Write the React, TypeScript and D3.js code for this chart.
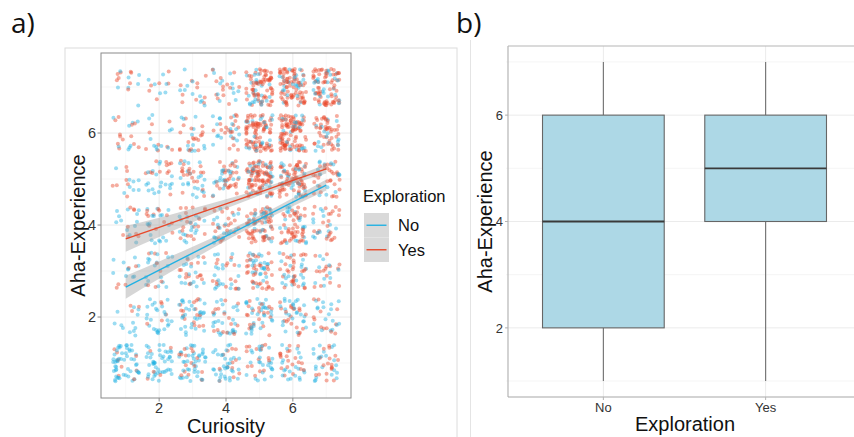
import React from "react";
import * as d3 from "d3";

// ---- data ----
const LEVELS = [1, 2, 3, 4, 5, 6, 7];
const GROUPS = ["No", "Yes"];

// participants per cell: rows = Aha-Experience 1..7, columns = Curiosity 1..7
const countsNo = [
  [52, 45, 40, 33, 25, 20, 22],
  [12, 25, 30, 25, 30, 25, 18],
  [10, 17, 15, 20, 25, 20, 10],
  [12, 18, 17, 18, 25, 20, 13],
  [8, 18, 20, 20, 25, 25, 15],
  [8, 10, 12, 17, 20, 20, 15],
  [7, 6, 10, 12, 25, 25, 25],
];
const countsYes = [
  [8, 5, 15, 12, 15, 20, 18],
  [3, 5, 15, 15, 20, 20, 12],
  [5, 8, 15, 15, 35, 30, 15],
  [8, 12, 18, 22, 55, 45, 22],
  [7, 12, 20, 30, 85, 65, 30],
  [12, 8, 18, 18, 80, 90, 45],
  [8, 6, 10, 13, 65, 75, 65],
];

// fitted lines (lm) with confidence half-widths at Curiosity 1..7
const fitNo = [2.65, 3.02, 3.39, 3.76, 4.13, 4.5, 4.87];
const fitYes = [3.7, 3.95, 4.21, 4.46, 4.71, 4.97, 5.22];
const seNo = [0.25, 0.19, 0.14, 0.1, 0.08, 0.09, 0.12];
const seYes = [0.28, 0.21, 0.15, 0.1, 0.07, 0.07, 0.1];

// box plot summaries per Exploration group
const boxCats = ["No", "Yes"];
const boxMin = [1, 1];
const boxQ1 = [2, 4];
const boxMed = [4, 5];
const boxQ3 = [6, 6];
const boxMax = [7, 7];

const yTicks = [2, 4, 6];
const xTicks = [2, 4, 6];
const minorTicks = [1, 3, 5, 7];

const COLORS: Record<string, string> = { No: "#22b1e3", Yes: "#e8482a" };
const FONT = "'Liberation Sans', Arial, sans-serif";

type Pt = { x: number; y: number; g: string; key: string };

// seeded generator so the jitter is identical on every render
function mulberry32(seed: number) {
  let a = seed >>> 0;
  return () => {
    a = (a + 0x6d2b79f5) >>> 0;
    let t = a;
    t = Math.imul(t ^ (t >>> 15), t | 1);
    t ^= t + Math.imul(t ^ (t >>> 7), t | 61);
    return ((t ^ (t >>> 14)) >>> 0) / 4294967296;
  };
}

// geom_jitter-style spread of width/height 0.4 around each integer cell
function buildPoints(): Pt[] {
  const pts: Pt[] = [];
  const jit = mulberry32(20190611);
  LEVELS.forEach((aha, ri) => {
    LEVELS.forEach((cur, ci) => {
      const nNo = countsNo[ri][ci];
      const nYes = countsYes[ri][ci];
      const total = nNo + nYes;
      let yesSoFar = 0;
      for (let k = 0; k < total; k++) {
        const target = Math.round(((k + 1) * nYes) / total);
        const g = target > yesSoFar ? "Yes" : "No";
        if (g === "Yes") yesSoFar++;
        pts.push({
          x: cur + (jit() - 0.5) * 0.8,
          y: aha + (jit() - 0.5) * 0.8,
          g,
          key: `${ri}-${ci}-${k}`,
        });
      }
    });
  });
  return pts;
}

const points = buildPoints();

function ScatterPanel() {
  const L = 101, R = 351, T = 53, B = 398;
  const x = d3.scaleLinear().domain([0.26, 7.74]).range([L, R]);
  const y = d3.scaleLinear().domain([0.24, 7.74]).range([B, T]);
  const fits: Record<string, number[]> = { No: fitNo, Yes: fitYes };
  const ses: Record<string, number[]> = { No: seNo, Yes: seYes };
  const band = (g: string) =>
    d3
      .area<number>()
      .x((_, i) => x(LEVELS[i]))
      .y0((d, i) => y(d - ses[g][i]))
      .y1((d, i) => y(d + ses[g][i]))
      .curve(d3.curveMonotoneX)(fits[g]) || "";
  const line = (g: string) =>
    d3
      .line<number>()
      .x((_, i) => x(LEVELS[i]))
      .y((d) => y(d))(fits[g]) || "";

  return (
    <g>
      <rect x={65} y={48} width={392} height={400} fill="none" stroke="#dcdcdc" strokeWidth={1} />
      <defs>
        <clipPath id="clipA">
          <rect x={L} y={T} width={R - L} height={B - T} />
        </clipPath>
      </defs>
      <rect x={L} y={T} width={R - L} height={B - T} fill="#fff" />
      {minorTicks.map((t) => (
        <g key={"mn" + t}>
          <line x1={x(t)} x2={x(t)} y1={T} y2={B} stroke="#f4f4f4" strokeWidth={0.6} />
          <line x1={L} x2={R} y1={y(t)} y2={y(t)} stroke="#f4f4f4" strokeWidth={0.6} />
        </g>
      ))}
      {xTicks.map((t) => (
        <line key={"gx" + t} x1={x(t)} x2={x(t)} y1={T} y2={B} stroke="#ebebeb" strokeWidth={1} />
      ))}
      {yTicks.map((t) => (
        <line key={"gy" + t} x1={L} x2={R} y1={y(t)} y2={y(t)} stroke="#ebebeb" strokeWidth={1} />
      ))}
      <g clipPath="url(#clipA)">
        {points.map((p) => (
          <circle key={p.key} cx={x(p.x)} cy={y(p.y)} r={2} fill={COLORS[p.g]} fillOpacity={0.45} />
        ))}
        {GROUPS.map((g) => (
          <path key={"b" + g} d={band(g)} fill="#999" fillOpacity={0.4} />
        ))}
        {GROUPS.map((g) => (
          <path key={"l" + g} d={line(g)} fill="none" stroke={COLORS[g]} strokeWidth={1.4} />
        ))}
      </g>
      <rect x={L} y={T} width={R - L} height={B - T} fill="none" stroke="#8a8a8a" strokeWidth={1} />
      {xTicks.map((t) => (
        <g key={"tx" + t}>
          <line x1={x(t)} x2={x(t)} y1={B} y2={B + 3.5} stroke="#8a8a8a" />
          <text x={x(t)} y={413} textAnchor="middle" fontSize={14.5} fill="#333" fontFamily={FONT}>
            {t}
          </text>
        </g>
      ))}
      {yTicks.map((t) => (
        <g key={"ty" + t}>
          <line x1={L - 3.5} x2={L} y1={y(t)} y2={y(t)} stroke="#8a8a8a" />
          <text x={96} y={y(t)} dy="0.36em" textAnchor="end" fontSize={14.5} fill="#333" fontFamily={FONT}>
            {t}
          </text>
        </g>
      ))}
      <text x={(L + R) / 2} y={433} textAnchor="middle" fontSize={20} fill="#111" fontFamily={FONT}>
        Curiosity
      </text>
      <text
        transform={`translate(85,${(T + B) / 2}) rotate(-90)`}
        textAnchor="middle"
        fontSize={20}
        fill="#111"
        fontFamily={FONT}
      >
        Aha-Experience
      </text>
      {/* legend */}
      <text x={363} y={202} fontSize={16.5} fill="#111" fontFamily={FONT}>
        Exploration
      </text>
      {GROUPS.map((g, i) => (
        <g key={"lg" + g} transform={`translate(364,${213 + i * 24.5})`}>
          <rect width={25} height={24.5} fill="#d9d9d9" />
          <line x1={2.5} x2={22.5} y1={12.25} y2={12.25} stroke={COLORS[g]} strokeWidth={1.4} />
          <text x={34} y={12.25} dy="0.36em" fontSize={16.5} fill="#111" fontFamily={FONT}>
            {g}
          </text>
        </g>
      ))}
    </g>
  );
}

function BoxPanel() {
  const L = 506, R = 863, T = 46, B = 397;
  // discrete axis: 0.6 of a step between the outer categories and the panel edges
  const x = d3.scaleBand().domain(boxCats).range([L, R]).paddingOuter(0.1).paddingInner(0);
  const y = d3.scaleLinear().domain([0.7, 7.3]).range([B, T]);
  const cx = (c: string) => (x(c) as number) + x.bandwidth() / 2;
  const bw = x.bandwidth() * 0.75;
  return (
    <g>
      <line x1={470.5} x2={470.5} y1={40} y2={437} stroke="#e4e4e4" />
      <defs>
        <clipPath id="clipB">
          <rect x={L} y={T} width={R - L} height={B - T} />
        </clipPath>
      </defs>
      <g clipPath="url(#clipB)">
        {minorTicks.map((t) => (
          <line key={"bm" + t} x1={L} x2={R} y1={y(t)} y2={y(t)} stroke="#f3f3f3" strokeWidth={0.8} />
        ))}
        {yTicks.map((t) => (
          <line key={"bg" + t} x1={L} x2={R} y1={y(t)} y2={y(t)} stroke="#ebebeb" strokeWidth={1} />
        ))}
        {boxCats.map((c) => (
          <line key={"bx" + c} x1={cx(c)} x2={cx(c)} y1={T} y2={B} stroke="#ebebeb" strokeWidth={1} />
        ))}
        {boxCats.map((c, i) => (
          <g key={"box" + c}>
            <line x1={cx(c)} x2={cx(c)} y1={y(boxMax[i])} y2={y(boxQ3[i])} stroke="#6e6e6e" strokeWidth={1.1} />
            <line x1={cx(c)} x2={cx(c)} y1={y(boxQ1[i])} y2={y(boxMin[i])} stroke="#6e6e6e" strokeWidth={1.1} />
            <rect
              x={cx(c) - bw / 2}
              y={y(boxQ3[i])}
              width={bw}
              height={y(boxQ1[i]) - y(boxQ3[i])}
              fill="#add8e6"
              stroke="#666"
              strokeWidth={1.1}
            />
            <line
              x1={cx(c) - bw / 2}
              x2={cx(c) + bw / 2}
              y1={y(boxMed[i])}
              y2={y(boxMed[i])}
              stroke="#3a3a3a"
              strokeWidth={1.8}
            />
          </g>
        ))}
      </g>
      <line x1={L + 2} x2={R} y1={T} y2={T} stroke="#b5b5b5" strokeWidth={1.2} />
      <line x1={L + 2} x2={L + 2} y1={T} y2={B} stroke="#b5b5b5" strokeWidth={1.2} />
      <line x1={L + 2} x2={R} y1={B} y2={B} stroke="#a8a8a8" strokeWidth={1.2} />
      {yTicks.map((t) => (
        <g key={"bty" + t}>
          <line x1={L - 1} x2={L + 2} y1={y(t)} y2={y(t)} stroke="#b5b5b5" />
          <text x={503} y={y(t)} dy="0.36em" textAnchor="end" fontSize={13} fill="#333" fontFamily={FONT}>
            {t}
          </text>
        </g>
      ))}
      {boxCats.map((c) => (
        <g key={"btx" + c}>
          <line x1={cx(c)} x2={cx(c)} y1={B} y2={B + 3} stroke="#b5b5b5" />
          <text x={cx(c)} y={412} textAnchor="middle" fontSize={13} fill="#333" fontFamily={FONT}>
            {c}
          </text>
        </g>
      ))}
      <text x={685} y={431} textAnchor="middle" fontSize={20} fill="#111" fontFamily={FONT}>
        Exploration
      </text>
      <text
        transform={`translate(492,${(T + B) / 2}) rotate(-90)`}
        textAnchor="middle"
        fontSize={20}
        fill="#111"
        fontFamily={FONT}
      >
        Aha-Experience
      </text>
    </g>
  );
}

export default function App() {
  return (
    <svg
      width={854}
      height={437}
      viewBox="0 0 854 437"
      style={{ position: "absolute", left: 0, top: 0, background: "#fff" }}
    >
      <rect width={854} height={437} fill="#fff" />
      <ScatterPanel />
      <BoxPanel />
      <text x={11} y={33} fontSize={28} fill="#111" fontFamily="'Open Sans', sans-serif">
        a)
      </text>
      <text x={456} y={33} fontSize={28} fill="#111" fontFamily="'Open Sans', sans-serif">
        b)
      </text>
    </svg>
  );
}
